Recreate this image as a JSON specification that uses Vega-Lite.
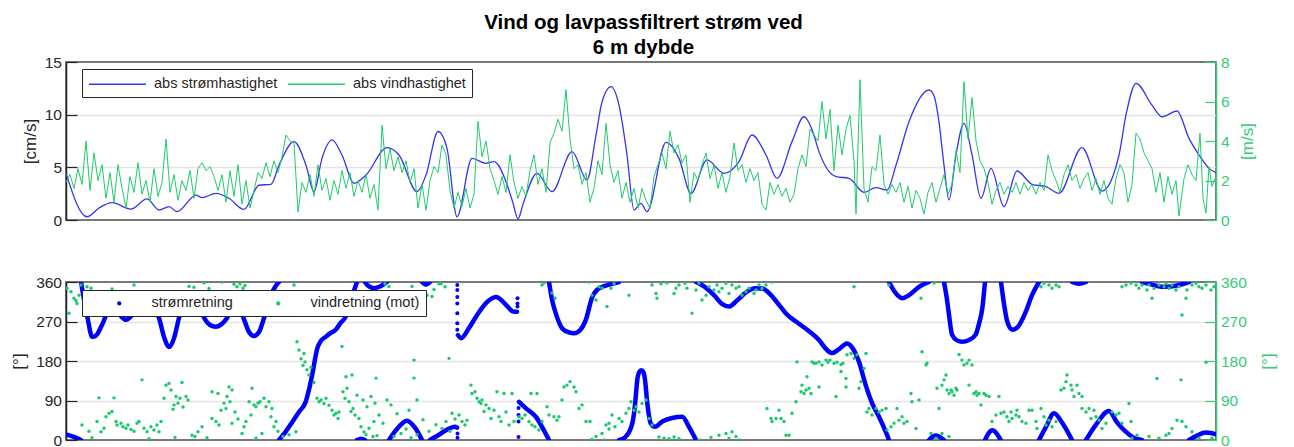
{
  "$schema": "https://vega.github.io/schema/vega-lite/v6.json",
  "background": "white",
  "padding": {"left": 9, "top": 12, "right": 0, "bottom": 0},
  "title": {
    "text": ["Vind og lavpassfiltrert strøm ved", "6 m dybde"],
    "font": "Liberation Sans",
    "fontSize": 20.5,
    "fontWeight": "bold",
    "color": "#000000",
    "lineHeight": 25,
    "offset": -4,
    "anchor": "middle"
  },
  "config": {
    "font": "Liberation Sans",
    "view": {"stroke": "#4d4d4d", "strokeWidth": 1.5},
    "axis": {
      "labelFont": "Liberation Sans",
      "labelFontSize": 15.5,
      "titleFont": "Liberation Sans",
      "titleFontSize": 17,
      "titleFontWeight": "normal",
      "tickSize": -11,
      "tickWidth": 1.2,
      "labelPadding": 15.5,
      "domainWidth": 1.5,
      "labelFlush": false,
      "labelOverlap": false
    },
    "legend": {
      "labelFont": "Liberation Sans",
      "labelFontSize": 14.5,
      "labelColor": "#262626",
      "strokeColor": "#262626",
      "fillColor": "white",
      "padding": 6
    }
  },
  "resolve": {"scale": {"color": "independent"}, "legend": {"color": "independent"}},
  "spacing": 62,
  "bounds": "flush",
  "vconcat": [
    {
      "width": 1150,
      "height": 158,
      "layer": [
        {
          "data": {"name": "stromfart"},
          "mark": {"type": "line", "interpolate": "monotone", "strokeWidth": 1.3, "clip": true},
          "encoding": {
            "x": {"field": "t", "type": "quantitative", "scale": {"domain": [0, 1150], "nice": false, "zero": false}, "axis": null},
            "y": {
              "field": "cms", "type": "quantitative",
              "scale": {"domain": [0, 15], "nice": false},
              "axis": {
                "orient": "left", "values": [0, 5, 10, 15], "title": "[cm/s]", "titlePadding": 5,
                "grid": true, "gridColor": "#e4e4e4", "gridWidth": 1.3,
                "gridOpacity": {"condition": {"test": "datum.value == 0 || datum.value == 15", "value": 0}, "value": 1},
                "domainColor": "#262626", "tickColor": "#262626", "labelColor": "#262626", "titleColor": "#262626"
              }
            },
            "color": {
              "datum": "abs strømhastighet", "type": "nominal",
              "scale": {"domain": ["abs strømhastighet", "abs vindhastighet"], "range": ["#3535ee", "#1fcc6b"]},
              "legend": {
                "orient": "none", "legendX": 16, "legendY": 7, "direction": "horizontal", "title": null,
                "symbolType": "M-3.56,0H3.56", "symbolSize": 256, "symbolStrokeWidth": 1.3,
                "symbolOffset": 20.5, "labelOffset": 27.5, "columnPadding": 7
              }
            }
          }
        },
        {
          "data": {"name": "vindfart"},
          "mark": {"type": "line", "strokeWidth": 1, "clip": true},
          "encoding": {
            "x": {"field": "t", "type": "quantitative", "scale": {"domain": [0, 1150], "nice": false, "zero": false}, "axis": null},
            "y": {
              "field": "ms", "type": "quantitative",
              "scale": {"domain": [0, 8], "nice": false},
              "axis": {
                "orient": "right", "values": [0, 2, 4, 6, 8], "title": "[m/s]", "titlePadding": 10,
                "titleAngle": -90, "titleBaseline": "top", "grid": false,
                "domainColor": "#33cc77", "tickColor": "#33cc77", "labelColor": "#33cc77", "titleColor": "#33cc77"
              }
            },
            "color": {
              "datum": "abs vindhastighet", "type": "nominal",
              "scale": {"domain": ["abs strømhastighet", "abs vindhastighet"], "range": ["#3535ee", "#1fcc6b"]}
            }
          }
        }
      ],
      "resolve": {"scale": {"y": "independent"}}
    },
    {
      "width": 1150,
      "height": 158,
      "layer": [
        {
          "data": {"name": "stromretning"},
          "mark": {"type": "line", "interpolate": "monotone", "strokeWidth": 4.5, "strokeCap": "round", "color": "#0000ff", "clip": true},
          "encoding": {
            "x": {"field": "t", "type": "quantitative", "scale": {"domain": [0, 1150], "nice": false, "zero": false}, "axis": null},
            "y": {
              "field": "grader", "type": "quantitative",
              "scale": {"domain": [0, 360], "nice": false},
              "axis": {
                "orient": "left", "values": [0, 90, 180, 270, 360], "title": "[°]", "titlePadding": 7,
                "grid": true, "gridColor": "#e4e4e4", "gridWidth": 1.3,
                "gridOpacity": {"condition": {"test": "datum.value == 0 || datum.value == 360", "value": 0}, "value": 1},
                "domainColor": "#262626", "tickColor": "#262626", "labelColor": "#262626", "titleColor": "#262626"
              }
            },
            "detail": {"field": "seg", "type": "nominal"}
          }
        },
        {
          "data": {"name": "stromretning_pkt"},
          "mark": {"type": "circle", "size": 16, "opacity": 1, "clip": true},
          "encoding": {
            "x": {"field": "t", "type": "quantitative", "scale": {"domain": [0, 1150], "nice": false, "zero": false}, "axis": null},
            "y": {"field": "grader", "type": "quantitative", "scale": {"domain": [0, 360], "nice": false}, "axis": null},
            "color": {
              "datum": "strømretning", "type": "nominal",
              "scale": {"domain": ["strømretning", "vindretning (mot)"], "range": ["#0000ff", "#19c96b"]},
              "legend": {
                "orient": "none", "legendX": 16, "legendY": 8, "direction": "horizontal", "title": null,
                "symbolType": "circle", "symbolSize": 18, "symbolOffset": 24,
                "labelOffset": 25, "columnPadding": 14
              }
            }
          }
        },
        {
          "data": {"name": "vindretning"},
          "mark": {"type": "circle", "size": 12, "opacity": 1, "clip": true},
          "encoding": {
            "x": {"field": "t", "type": "quantitative", "scale": {"domain": [0, 1150], "nice": false, "zero": false}, "axis": null},
            "y": {
              "field": "grader", "type": "quantitative",
              "scale": {"domain": [0, 360], "nice": false},
              "axis": {
                "orient": "right", "values": [0, 90, 180, 270, 360], "title": "[°]", "titlePadding": 14,
                "titleAngle": -90, "titleBaseline": "top", "grid": false,
                "domainColor": "#33cc77", "tickColor": "#33cc77", "labelColor": "#33cc77", "titleColor": "#33cc77"
              }
            },
            "color": {
              "datum": "vindretning (mot)", "type": "nominal",
              "scale": {"domain": ["strømretning", "vindretning (mot)"], "range": ["#0000ff", "#19c96b"]}
            }
          }
        }
      ],
      "resolve": {"scale": {"y": "independent"}}
    }
  ],
  "datasets": {
    "stromfart": [
      {"t": 0, "cms": 4.43}, {"t": 21, "cms": 0.31}, {"t": 33, "cms": 1.14}, {"t": 46, "cms": 1.65},
      {"t": 65, "cms": 1.04}, {"t": 81, "cms": 2.0}, {"t": 93, "cms": 0.95}, {"t": 103, "cms": 1.27},
      {"t": 111, "cms": 0.79}, {"t": 130, "cms": 2.37}, {"t": 136, "cms": 2.12}, {"t": 150, "cms": 2.53},
      {"t": 163, "cms": 2.06}, {"t": 178, "cms": 1.0}, {"t": 193, "cms": 3.3}, {"t": 205, "cms": 3.39},
      {"t": 213, "cms": 5.2}, {"t": 228, "cms": 7.44}, {"t": 240, "cms": 5.2}, {"t": 248, "cms": 2.69},
      {"t": 256, "cms": 5.85}, {"t": 266, "cms": 7.6}, {"t": 276, "cms": 6.17}, {"t": 288, "cms": 3.48},
      {"t": 300, "cms": 4.27}, {"t": 321, "cms": 6.87}, {"t": 333, "cms": 6.17}, {"t": 351, "cms": 2.69},
      {"t": 360, "cms": 4.27}, {"t": 372, "cms": 8.4}, {"t": 381, "cms": 6.8}, {"t": 391, "cms": 0.31},
      {"t": 406, "cms": 5.85}, {"t": 420, "cms": 5.38}, {"t": 428, "cms": 5.54}, {"t": 440, "cms": 3.64},
      {"t": 447, "cms": 1.6}, {"t": 452, "cms": 0.1}, {"t": 457, "cms": 1.5}, {"t": 471, "cms": 4.43},
      {"t": 486, "cms": 2.69}, {"t": 506, "cms": 6.49}, {"t": 521, "cms": 3.8}, {"t": 530, "cms": 8.07},
      {"t": 536, "cms": 11.2}, {"t": 545, "cms": 12.66}, {"t": 553, "cms": 10.9}, {"t": 561, "cms": 6.17},
      {"t": 568, "cms": 0.95}, {"t": 575, "cms": 1.58}, {"t": 581, "cms": 0.79}, {"t": 600, "cms": 7.37},
      {"t": 613, "cms": 5.85}, {"t": 625, "cms": 2.53}, {"t": 641, "cms": 5.7}, {"t": 658, "cms": 4.43},
      {"t": 673, "cms": 5.54}, {"t": 686, "cms": 8.07}, {"t": 700, "cms": 6.17}, {"t": 711, "cms": 3.96},
      {"t": 726, "cms": 7.44}, {"t": 738, "cms": 9.8}, {"t": 746, "cms": 8.6}, {"t": 753, "cms": 6.49},
      {"t": 763, "cms": 4.59}, {"t": 770, "cms": 4.11}, {"t": 783, "cms": 3.96}, {"t": 798, "cms": 2.63},
      {"t": 810, "cms": 3.07}, {"t": 821, "cms": 2.85}, {"t": 830, "cms": 5.2}, {"t": 843, "cms": 9.33},
      {"t": 863, "cms": 12.34}, {"t": 868, "cms": 11.8}, {"t": 873, "cms": 9.3}, {"t": 878, "cms": 5.2},
      {"t": 883, "cms": 1.9}, {"t": 890, "cms": 6.2}, {"t": 898, "cms": 9.18}, {"t": 906, "cms": 6.2},
      {"t": 915, "cms": 2.06}, {"t": 925, "cms": 4.9}, {"t": 938, "cms": 1.27}, {"t": 951, "cms": 4.65},
      {"t": 966, "cms": 3.39}, {"t": 980, "cms": 3.16}, {"t": 993, "cms": 2.53}, {"t": 1016, "cms": 6.87},
      {"t": 1036, "cms": 2.75}, {"t": 1053, "cms": 6.17}, {"t": 1060, "cms": 9.97}, {"t": 1070, "cms": 12.98},
      {"t": 1086, "cms": 10.9}, {"t": 1096, "cms": 9.8}, {"t": 1111, "cms": 10.35}, {"t": 1123, "cms": 7.75},
      {"t": 1133, "cms": 6.17}, {"t": 1143, "cms": 4.9}, {"t": 1150, "cms": 4.5}
    ],
    "vindfart": [
      {"t": 0, "ms": 1.9}, {"t": 4, "ms": 2.3}, {"t": 8, "ms": 1.6}, {"t": 12, "ms": 2.6}, {"t": 16, "ms": 1.8},
      {"t": 20, "ms": 4.0}, {"t": 24, "ms": 1.5}, {"t": 28, "ms": 3.4}, {"t": 32, "ms": 2.0}, {"t": 36, "ms": 2.8},
      {"t": 40, "ms": 1.1}, {"t": 44, "ms": 2.4}, {"t": 48, "ms": 0.9}, {"t": 52, "ms": 2.8}, {"t": 56, "ms": 1.6},
      {"t": 60, "ms": 0.6}, {"t": 64, "ms": 2.2}, {"t": 68, "ms": 1.4}, {"t": 72, "ms": 2.9}, {"t": 76, "ms": 1.3},
      {"t": 80, "ms": 2.0}, {"t": 84, "ms": 0.9}, {"t": 88, "ms": 2.6}, {"t": 92, "ms": 1.2}, {"t": 96, "ms": 1.9},
      {"t": 100, "ms": 4.1}, {"t": 104, "ms": 1.4}, {"t": 108, "ms": 2.3}, {"t": 112, "ms": 1.0}, {"t": 116, "ms": 2.0},
      {"t": 120, "ms": 1.5}, {"t": 124, "ms": 2.5}, {"t": 128, "ms": 1.1}, {"t": 132, "ms": 2.6}, {"t": 136, "ms": 2.9},
      {"t": 140, "ms": 2.5}, {"t": 144, "ms": 2.7}, {"t": 148, "ms": 2.2}, {"t": 152, "ms": 1.5}, {"t": 156, "ms": 2.3},
      {"t": 160, "ms": 0.9}, {"t": 164, "ms": 2.5}, {"t": 168, "ms": 1.2}, {"t": 172, "ms": 2.8}, {"t": 176, "ms": 0.8},
      {"t": 180, "ms": 2.0}, {"t": 184, "ms": 0.6}, {"t": 188, "ms": 1.5}, {"t": 192, "ms": 2.4}, {"t": 196, "ms": 2.1},
      {"t": 200, "ms": 2.9}, {"t": 204, "ms": 2.2}, {"t": 208, "ms": 3.0}, {"t": 212, "ms": 2.4}, {"t": 216, "ms": 3.2},
      {"t": 220, "ms": 4.3}, {"t": 224, "ms": 4.0}, {"t": 228, "ms": 3.9}, {"t": 232, "ms": 0.4}, {"t": 236, "ms": 1.9},
      {"t": 240, "ms": 1.4}, {"t": 244, "ms": 2.3}, {"t": 248, "ms": 1.2}, {"t": 252, "ms": 2.8}, {"t": 256, "ms": 1.5},
      {"t": 260, "ms": 2.1}, {"t": 264, "ms": 1.0}, {"t": 268, "ms": 2.0}, {"t": 272, "ms": 1.3}, {"t": 276, "ms": 2.5},
      {"t": 280, "ms": 1.6}, {"t": 284, "ms": 2.4}, {"t": 288, "ms": 1.2}, {"t": 292, "ms": 2.0}, {"t": 296, "ms": 1.4},
      {"t": 300, "ms": 2.3}, {"t": 304, "ms": 1.1}, {"t": 308, "ms": 1.8}, {"t": 312, "ms": 0.5}, {"t": 316, "ms": 4.8},
      {"t": 320, "ms": 2.6}, {"t": 324, "ms": 3.6}, {"t": 328, "ms": 2.5}, {"t": 332, "ms": 3.2}, {"t": 336, "ms": 2.4},
      {"t": 340, "ms": 3.0}, {"t": 344, "ms": 1.9}, {"t": 348, "ms": 2.6}, {"t": 352, "ms": 0.6}, {"t": 356, "ms": 1.8},
      {"t": 360, "ms": 0.5}, {"t": 364, "ms": 2.0}, {"t": 368, "ms": 2.7}, {"t": 372, "ms": 2.4}, {"t": 376, "ms": 3.8},
      {"t": 380, "ms": 3.3}, {"t": 384, "ms": 1.5}, {"t": 388, "ms": 0.6}, {"t": 392, "ms": 1.4}, {"t": 396, "ms": 0.7},
      {"t": 400, "ms": 1.6}, {"t": 404, "ms": 0.6}, {"t": 408, "ms": 1.3}, {"t": 412, "ms": 5.0}, {"t": 416, "ms": 3.2},
      {"t": 420, "ms": 4.0}, {"t": 424, "ms": 2.6}, {"t": 428, "ms": 2.0}, {"t": 432, "ms": 1.3}, {"t": 436, "ms": 2.2},
      {"t": 440, "ms": 1.4}, {"t": 444, "ms": 3.3}, {"t": 448, "ms": 1.9}, {"t": 452, "ms": 1.1}, {"t": 456, "ms": 1.7},
      {"t": 460, "ms": 1.2}, {"t": 464, "ms": 2.5}, {"t": 468, "ms": 3.3}, {"t": 472, "ms": 1.8}, {"t": 476, "ms": 2.6},
      {"t": 480, "ms": 1.4}, {"t": 484, "ms": 3.9}, {"t": 488, "ms": 4.4}, {"t": 492, "ms": 5.1}, {"t": 496, "ms": 4.5},
      {"t": 500, "ms": 6.6}, {"t": 504, "ms": 4.1}, {"t": 508, "ms": 2.6}, {"t": 512, "ms": 2.8}, {"t": 516, "ms": 1.8},
      {"t": 520, "ms": 2.4}, {"t": 524, "ms": 0.9}, {"t": 528, "ms": 1.6}, {"t": 532, "ms": 3.0}, {"t": 536, "ms": 2.3},
      {"t": 540, "ms": 4.9}, {"t": 544, "ms": 2.8}, {"t": 548, "ms": 1.9}, {"t": 552, "ms": 2.5}, {"t": 556, "ms": 1.1},
      {"t": 560, "ms": 1.9}, {"t": 564, "ms": 0.9}, {"t": 568, "ms": 1.6}, {"t": 572, "ms": 0.6}, {"t": 576, "ms": 1.6},
      {"t": 580, "ms": 1.0}, {"t": 584, "ms": 0.6}, {"t": 588, "ms": 2.2}, {"t": 592, "ms": 2.8}, {"t": 596, "ms": 3.4},
      {"t": 600, "ms": 2.6}, {"t": 604, "ms": 4.5}, {"t": 608, "ms": 3.4}, {"t": 612, "ms": 3.8}, {"t": 616, "ms": 2.9},
      {"t": 620, "ms": 3.3}, {"t": 624, "ms": 0.9}, {"t": 628, "ms": 2.4}, {"t": 632, "ms": 2.0}, {"t": 636, "ms": 2.8},
      {"t": 640, "ms": 3.4}, {"t": 644, "ms": 2.1}, {"t": 648, "ms": 2.8}, {"t": 652, "ms": 1.6}, {"t": 656, "ms": 2.4},
      {"t": 660, "ms": 1.4}, {"t": 664, "ms": 2.2}, {"t": 668, "ms": 3.9}, {"t": 672, "ms": 2.5}, {"t": 676, "ms": 2.8},
      {"t": 680, "ms": 1.9}, {"t": 684, "ms": 2.6}, {"t": 688, "ms": 2.0}, {"t": 692, "ms": 2.4}, {"t": 696, "ms": 0.8},
      {"t": 700, "ms": 0.5}, {"t": 704, "ms": 1.9}, {"t": 708, "ms": 1.3}, {"t": 712, "ms": 1.8}, {"t": 716, "ms": 1.2},
      {"t": 720, "ms": 1.6}, {"t": 724, "ms": 0.9}, {"t": 728, "ms": 1.3}, {"t": 732, "ms": 2.6}, {"t": 736, "ms": 3.3},
      {"t": 740, "ms": 2.7}, {"t": 744, "ms": 4.6}, {"t": 748, "ms": 4.3}, {"t": 752, "ms": 4.0}, {"t": 756, "ms": 6.0},
      {"t": 760, "ms": 4.1}, {"t": 764, "ms": 5.6}, {"t": 768, "ms": 2.5}, {"t": 772, "ms": 4.8}, {"t": 776, "ms": 3.3},
      {"t": 780, "ms": 4.6}, {"t": 784, "ms": 5.3}, {"t": 788, "ms": 3.0}, {"t": 790, "ms": 0.3}, {"t": 794, "ms": 7.1},
      {"t": 798, "ms": 1.6}, {"t": 802, "ms": 0.9}, {"t": 806, "ms": 2.7}, {"t": 810, "ms": 2.5}, {"t": 814, "ms": 4.3},
      {"t": 818, "ms": 1.8}, {"t": 822, "ms": 1.3}, {"t": 826, "ms": 1.8}, {"t": 830, "ms": 1.4}, {"t": 834, "ms": 1.9},
      {"t": 838, "ms": 0.9}, {"t": 842, "ms": 1.7}, {"t": 846, "ms": 0.6}, {"t": 850, "ms": 1.5}, {"t": 854, "ms": 1.1},
      {"t": 858, "ms": 0.3}, {"t": 862, "ms": 1.4}, {"t": 866, "ms": 1.9}, {"t": 870, "ms": 0.9}, {"t": 874, "ms": 1.6},
      {"t": 878, "ms": 2.3}, {"t": 882, "ms": 1.3}, {"t": 886, "ms": 1.8}, {"t": 890, "ms": 3.5}, {"t": 894, "ms": 2.4},
      {"t": 898, "ms": 7.0}, {"t": 902, "ms": 4.1}, {"t": 906, "ms": 6.2}, {"t": 910, "ms": 4.0}, {"t": 914, "ms": 3.0},
      {"t": 918, "ms": 2.6}, {"t": 922, "ms": 1.9}, {"t": 926, "ms": 0.8}, {"t": 930, "ms": 1.5}, {"t": 934, "ms": 1.9},
      {"t": 938, "ms": 1.3}, {"t": 942, "ms": 1.7}, {"t": 946, "ms": 1.4}, {"t": 950, "ms": 1.9}, {"t": 954, "ms": 1.3},
      {"t": 958, "ms": 1.9}, {"t": 962, "ms": 1.5}, {"t": 966, "ms": 1.8}, {"t": 970, "ms": 1.3}, {"t": 974, "ms": 1.9},
      {"t": 978, "ms": 1.5}, {"t": 982, "ms": 3.3}, {"t": 986, "ms": 2.5}, {"t": 990, "ms": 2.0}, {"t": 994, "ms": 1.4},
      {"t": 998, "ms": 2.3}, {"t": 1002, "ms": 2.8}, {"t": 1006, "ms": 2.0}, {"t": 1010, "ms": 2.3}, {"t": 1014, "ms": 1.6},
      {"t": 1018, "ms": 2.1}, {"t": 1022, "ms": 2.4}, {"t": 1026, "ms": 1.5}, {"t": 1030, "ms": 2.1}, {"t": 1034, "ms": 1.3},
      {"t": 1038, "ms": 2.0}, {"t": 1042, "ms": 1.1}, {"t": 1046, "ms": 0.8}, {"t": 1050, "ms": 2.1}, {"t": 1054, "ms": 2.8},
      {"t": 1058, "ms": 2.4}, {"t": 1062, "ms": 0.9}, {"t": 1066, "ms": 1.8}, {"t": 1070, "ms": 4.4}, {"t": 1074, "ms": 4.1},
      {"t": 1078, "ms": 3.4}, {"t": 1082, "ms": 3.0}, {"t": 1086, "ms": 2.6}, {"t": 1090, "ms": 1.4}, {"t": 1094, "ms": 2.4},
      {"t": 1098, "ms": 0.9}, {"t": 1102, "ms": 2.2}, {"t": 1106, "ms": 1.3}, {"t": 1110, "ms": 2.0}, {"t": 1113, "ms": 0.2},
      {"t": 1118, "ms": 2.1}, {"t": 1122, "ms": 2.8}, {"t": 1126, "ms": 2.3}, {"t": 1130, "ms": 2.0}, {"t": 1134, "ms": 4.4},
      {"t": 1137, "ms": 1.1}, {"t": 1140, "ms": 0.35}, {"t": 1143, "ms": 2.7}, {"t": 1146, "ms": 1.7}, {"t": 1150, "ms": 2.2}
    ],
    "stromretning": [
      {"t": 0, "grader": 13, "seg": 1}, {"t": 8, "grader": 7, "seg": 1}, {"t": 15, "grader": 0, "seg": 1},
      {"t": 15, "grader": 360, "seg": 2}, {"t": 18, "grader": 320, "seg": 2}, {"t": 21, "grader": 285, "seg": 2},
      {"t": 26.3, "grader": 235, "seg": 2}, {"t": 30, "grader": 238, "seg": 2}, {"t": 36, "grader": 262, "seg": 2},
      {"t": 43, "grader": 296, "seg": 2}, {"t": 49, "grader": 300, "seg": 2}, {"t": 55, "grader": 282, "seg": 2},
      {"t": 60, "grader": 274, "seg": 2}, {"t": 65, "grader": 282, "seg": 2}, {"t": 73, "grader": 315, "seg": 2},
      {"t": 81, "grader": 322, "seg": 2}, {"t": 88, "grader": 300, "seg": 2}, {"t": 93, "grader": 278, "seg": 2},
      {"t": 98, "grader": 235, "seg": 2}, {"t": 103, "grader": 212, "seg": 2}, {"t": 108, "grader": 232, "seg": 2},
      {"t": 113, "grader": 278, "seg": 2}, {"t": 119, "grader": 318, "seg": 2}, {"t": 127, "grader": 325, "seg": 2},
      {"t": 134, "grader": 300, "seg": 2}, {"t": 139, "grader": 275, "seg": 2}, {"t": 144, "grader": 262, "seg": 2},
      {"t": 149.7, "grader": 258, "seg": 2}, {"t": 155, "grader": 263, "seg": 2}, {"t": 161, "grader": 278, "seg": 2},
      {"t": 167, "grader": 305, "seg": 2}, {"t": 173, "grader": 300, "seg": 2}, {"t": 178, "grader": 275, "seg": 2},
      {"t": 183, "grader": 246, "seg": 2}, {"t": 188, "grader": 237, "seg": 2}, {"t": 193, "grader": 246, "seg": 2},
      {"t": 198, "grader": 278, "seg": 2}, {"t": 205, "grader": 330, "seg": 2}, {"t": 210, "grader": 352, "seg": 2},
      {"t": 213, "grader": 360, "seg": 2},
      {"t": 213, "grader": 0, "seg": 3}, {"t": 219.7, "grader": 19, "seg": 3}, {"t": 226, "grader": 40, "seg": 3},
      {"t": 233, "grader": 64, "seg": 3}, {"t": 239.7, "grader": 87, "seg": 3}, {"t": 243, "grader": 115, "seg": 3},
      {"t": 246.3, "grader": 150, "seg": 3}, {"t": 251.3, "grader": 209, "seg": 3}, {"t": 255, "grader": 226, "seg": 3},
      {"t": 259.7, "grader": 235, "seg": 3}, {"t": 264, "grader": 243, "seg": 3}, {"t": 269.7, "grader": 251, "seg": 3},
      {"t": 274, "grader": 265, "seg": 3}, {"t": 279.7, "grader": 281, "seg": 3}, {"t": 284.7, "grader": 315, "seg": 3},
      {"t": 288, "grader": 340, "seg": 3}, {"t": 291, "grader": 360, "seg": 3},
      {"t": 291, "grader": 0, "seg": 4}, {"t": 295, "grader": 3, "seg": 4}, {"t": 299, "grader": 0, "seg": 4},
      {"t": 299, "grader": 360, "seg": 5}, {"t": 303, "grader": 350, "seg": 5}, {"t": 308, "grader": 346, "seg": 5},
      {"t": 315, "grader": 351, "seg": 5}, {"t": 321, "grader": 360, "seg": 5},
      {"t": 323, "grader": 0, "seg": 6}, {"t": 331, "grader": 25, "seg": 6}, {"t": 341, "grader": 44, "seg": 6},
      {"t": 349, "grader": 28, "seg": 6}, {"t": 356, "grader": 0, "seg": 6},
      {"t": 356, "grader": 360, "seg": 7}, {"t": 360, "grader": 354, "seg": 7}, {"t": 364, "grader": 360, "seg": 7},
      {"t": 364, "grader": 0, "seg": 8}, {"t": 373, "grader": 12, "seg": 8}, {"t": 383, "grader": 26, "seg": 8},
      {"t": 389, "grader": 30, "seg": 8}, {"t": 391, "grader": 28, "seg": 8},
      {"t": 392, "grader": 239, "seg": 9}, {"t": 395, "grader": 232, "seg": 9}, {"t": 403, "grader": 255, "seg": 9},
      {"t": 410, "grader": 281, "seg": 9}, {"t": 420, "grader": 312, "seg": 9}, {"t": 430, "grader": 326, "seg": 9},
      {"t": 440, "grader": 308, "seg": 9}, {"t": 446, "grader": 294, "seg": 9}, {"t": 449, "grader": 292, "seg": 9},
      {"t": 451, "grader": 292, "seg": 9},
      {"t": 453, "grader": 87, "seg": 10}, {"t": 460, "grader": 72, "seg": 10}, {"t": 469.7, "grader": 53, "seg": 10},
      {"t": 476, "grader": 30, "seg": 10}, {"t": 483, "grader": 0, "seg": 10},
      {"t": 483, "grader": 360, "seg": 11}, {"t": 486, "grader": 320, "seg": 11}, {"t": 489.7, "grader": 289, "seg": 11},
      {"t": 496.3, "grader": 254, "seg": 11}, {"t": 503, "grader": 245, "seg": 11}, {"t": 508, "grader": 243, "seg": 11},
      {"t": 514, "grader": 250, "seg": 11}, {"t": 519.7, "grader": 273, "seg": 11}, {"t": 526.3, "grader": 326, "seg": 11},
      {"t": 531, "grader": 342, "seg": 11}, {"t": 536.3, "grader": 349, "seg": 11}, {"t": 545, "grader": 355, "seg": 11},
      {"t": 553, "grader": 360, "seg": 11},
      {"t": 553, "grader": 0, "seg": 12}, {"t": 559, "grader": 6, "seg": 12}, {"t": 566.3, "grader": 38, "seg": 12},
      {"t": 569, "grader": 80, "seg": 12}, {"t": 571.3, "grader": 137, "seg": 12}, {"t": 573.3, "grader": 155, "seg": 12},
      {"t": 575.3, "grader": 159, "seg": 12}, {"t": 577.3, "grader": 155, "seg": 12}, {"t": 579, "grader": 137, "seg": 12},
      {"t": 581.3, "grader": 84, "seg": 12}, {"t": 584.7, "grader": 38, "seg": 12}, {"t": 589, "grader": 30, "seg": 12},
      {"t": 596.3, "grader": 42, "seg": 12}, {"t": 606, "grader": 50, "seg": 12}, {"t": 616.3, "grader": 53, "seg": 12},
      {"t": 623, "grader": 30, "seg": 12}, {"t": 630, "grader": 0, "seg": 12},
      {"t": 630, "grader": 360, "seg": 13}, {"t": 638, "grader": 350, "seg": 13}, {"t": 648, "grader": 330, "seg": 13},
      {"t": 656, "grader": 310, "seg": 13}, {"t": 663, "grader": 304, "seg": 13}, {"t": 671, "grader": 318, "seg": 13},
      {"t": 681, "grader": 338, "seg": 13}, {"t": 689, "grader": 346, "seg": 13}, {"t": 696.3, "grader": 345, "seg": 13},
      {"t": 705, "grader": 330, "seg": 13}, {"t": 713, "grader": 308, "seg": 13}, {"t": 719.7, "grader": 289, "seg": 13},
      {"t": 733, "grader": 265, "seg": 13}, {"t": 743, "grader": 248, "seg": 13}, {"t": 753, "grader": 228, "seg": 13},
      {"t": 759, "grader": 210, "seg": 13}, {"t": 766, "grader": 198, "seg": 13}, {"t": 773, "grader": 207, "seg": 13},
      {"t": 781, "grader": 220, "seg": 13}, {"t": 787, "grader": 208, "seg": 13}, {"t": 793, "grader": 178, "seg": 13},
      {"t": 799.7, "grader": 125, "seg": 13}, {"t": 806.3, "grader": 83, "seg": 13}, {"t": 813, "grader": 53, "seg": 13},
      {"t": 819.7, "grader": 19, "seg": 13}, {"t": 823, "grader": 0, "seg": 13},
      {"t": 823, "grader": 360, "seg": 14}, {"t": 828, "grader": 340, "seg": 14}, {"t": 836.3, "grader": 323, "seg": 14},
      {"t": 843, "grader": 330, "seg": 14}, {"t": 853, "grader": 349, "seg": 14}, {"t": 863, "grader": 360, "seg": 14},
      {"t": 863, "grader": 0, "seg": 15}, {"t": 869.7, "grader": 10, "seg": 15}, {"t": 878, "grader": 0, "seg": 15},
      {"t": 878, "grader": 360, "seg": 16}, {"t": 881, "grader": 320, "seg": 16}, {"t": 883, "grader": 285, "seg": 16},
      {"t": 886, "grader": 240, "seg": 16}, {"t": 891, "grader": 227, "seg": 16}, {"t": 896, "grader": 224, "seg": 16},
      {"t": 903, "grader": 228, "seg": 16}, {"t": 909.7, "grader": 240, "seg": 16}, {"t": 913, "grader": 265, "seg": 16},
      {"t": 916.3, "grader": 300, "seg": 16}, {"t": 919, "grader": 360, "seg": 16},
      {"t": 919, "grader": 0, "seg": 17}, {"t": 926.3, "grader": 22, "seg": 17}, {"t": 934.7, "grader": 0, "seg": 17},
      {"t": 935, "grader": 360, "seg": 18}, {"t": 938, "grader": 310, "seg": 18}, {"t": 941, "grader": 272, "seg": 18},
      {"t": 946.3, "grader": 251, "seg": 18}, {"t": 952, "grader": 258, "seg": 18}, {"t": 959.7, "grader": 292, "seg": 18},
      {"t": 966, "grader": 330, "seg": 18}, {"t": 973, "grader": 360, "seg": 18},
      {"t": 973, "grader": 0, "seg": 19}, {"t": 980, "grader": 30, "seg": 19}, {"t": 988, "grader": 61, "seg": 19},
      {"t": 996, "grader": 40, "seg": 19}, {"t": 1006, "grader": 0, "seg": 19},
      {"t": 1006, "grader": 360, "seg": 20}, {"t": 1013, "grader": 356, "seg": 20}, {"t": 1020, "grader": 360, "seg": 20},
      {"t": 1020, "grader": 0, "seg": 21}, {"t": 1030, "grader": 35, "seg": 21}, {"t": 1043, "grader": 66, "seg": 21},
      {"t": 1051, "grader": 40, "seg": 21}, {"t": 1059.7, "grader": 19, "seg": 21}, {"t": 1067, "grader": 6, "seg": 21},
      {"t": 1076, "grader": 0, "seg": 21},
      {"t": 1076, "grader": 360, "seg": 22}, {"t": 1083, "grader": 356, "seg": 22}, {"t": 1091, "grader": 351, "seg": 22},
      {"t": 1099.7, "grader": 349, "seg": 22}, {"t": 1111, "grader": 352, "seg": 22}, {"t": 1123, "grader": 360, "seg": 22},
      {"t": 1123, "grader": 0, "seg": 23}, {"t": 1131, "grader": 10, "seg": 23}, {"t": 1139.7, "grader": 17, "seg": 23},
      {"t": 1145, "grader": 16, "seg": 23}, {"t": 1150, "grader": 13, "seg": 23}
    ],
    "stromretning_pkt": [
      {"t": 391.3, "grader": 353}, {"t": 391.3, "grader": 342}, {"t": 391.3, "grader": 326}, {"t": 391.3, "grader": 311},
      {"t": 391.3, "grader": 289}, {"t": 391.3, "grader": 266}, {"t": 391.3, "grader": 251},
      {"t": 391.5, "grader": 15}, {"t": 391.5, "grader": 5},
      {"t": 451.5, "grader": 304}, {"t": 451.5, "grader": 311}, {"t": 451.5, "grader": 323},
      {"t": 452.5, "grader": 7}, {"t": 452.5, "grader": 42}, {"t": 452.5, "grader": 57}, {"t": 452.5, "grader": 73}
    ],
    "vindretning": [
      {"t": 1, "grader": 346}, {"t": 3, "grader": 289}, {"t": 5, "grader": 338}, {"t": 8, "grader": 323}, {"t": 10, "grader": 318},
      {"t": 11, "grader": 311}, {"t": 13, "grader": 330}, {"t": 15, "grader": 353}, {"t": 21, "grader": 349}, {"t": 25, "grader": 346},
      {"t": 16, "grader": 34}, {"t": 23, "grader": 20}, {"t": 26, "grader": 5}, {"t": 31, "grader": 42}, {"t": 33, "grader": 96},
      {"t": 35, "grader": 19}, {"t": 38, "grader": 27}, {"t": 40, "grader": 53}, {"t": 43, "grader": 61}, {"t": 46, "grader": 65},
      {"t": 46, "grader": 344}, {"t": 48, "grader": 96}, {"t": 50, "grader": 42}, {"t": 51, "grader": 34}, {"t": 55, "grader": 38},
      {"t": 57, "grader": 30}, {"t": 60, "grader": 27}, {"t": 62, "grader": 34}, {"t": 65, "grader": 24}, {"t": 68, "grader": 20},
      {"t": 68, "grader": 353}, {"t": 71, "grader": 38}, {"t": 73, "grader": 42}, {"t": 76, "grader": 137}, {"t": 78, "grader": 27},
      {"t": 81, "grader": 19}, {"t": 83, "grader": 3}, {"t": 85, "grader": 30}, {"t": 88, "grader": 23}, {"t": 91, "grader": 34},
      {"t": 93, "grader": 19}, {"t": 95, "grader": 42}, {"t": 98, "grader": 95}, {"t": 100, "grader": 125}, {"t": 103, "grader": 129},
      {"t": 105, "grader": 114}, {"t": 107, "grader": 70}, {"t": 108, "grader": 80}, {"t": 109, "grader": 6}, {"t": 110, "grader": 99},
      {"t": 112, "grader": 84}, {"t": 114, "grader": 95}, {"t": 116, "grader": 131}, {"t": 117, "grader": 75}, {"t": 120, "grader": 99},
      {"t": 122, "grader": 91}, {"t": 123, "grader": 350}, {"t": 126, "grader": 11}, {"t": 128, "grader": 348}, {"t": 129, "grader": 8},
      {"t": 132, "grader": 19}, {"t": 136, "grader": 30}, {"t": 138, "grader": 358}, {"t": 141, "grader": 5}, {"t": 143, "grader": 345},
      {"t": 146, "grader": 49}, {"t": 146, "grader": 110}, {"t": 150, "grader": 42}, {"t": 152, "grader": 106}, {"t": 153, "grader": 34},
      {"t": 155, "grader": 68}, {"t": 156, "grader": 360}, {"t": 158, "grader": 84}, {"t": 160, "grader": 72}, {"t": 161, "grader": 99},
      {"t": 163, "grader": 121}, {"t": 164, "grader": 87}, {"t": 166, "grader": 114}, {"t": 166, "grader": 38}, {"t": 168, "grader": 355},
      {"t": 169, "grader": 64}, {"t": 171, "grader": 349}, {"t": 172, "grader": 48}, {"t": 174, "grader": 356}, {"t": 176, "grader": 15},
      {"t": 177, "grader": 346}, {"t": 178, "grader": 30}, {"t": 179, "grader": 352}, {"t": 180, "grader": 42}, {"t": 183, "grader": 87},
      {"t": 185, "grader": 57}, {"t": 186, "grader": 118}, {"t": 188, "grader": 80}, {"t": 190, "grader": 76}, {"t": 190, "grader": 4},
      {"t": 192, "grader": 84}, {"t": 194, "grader": 87}, {"t": 196, "grader": 15}, {"t": 198, "grader": 95}, {"t": 200, "grader": 76},
      {"t": 203, "grader": 87}, {"t": 205, "grader": 53}, {"t": 206, "grader": 72}, {"t": 208, "grader": 30}, {"t": 210, "grader": 42},
      {"t": 212, "grader": 20}, {"t": 217, "grader": 8}, {"t": 223, "grader": 12}, {"t": 228, "grader": 353}, {"t": 230, "grader": 19},
      {"t": 231, "grader": 224}, {"t": 233, "grader": 205}, {"t": 235, "grader": 185}, {"t": 237, "grader": 170}, {"t": 238, "grader": 197},
      {"t": 239, "grader": 178}, {"t": 241, "grader": 160}, {"t": 243, "grader": 148}, {"t": 245, "grader": 165}, {"t": 248, "grader": 131},
      {"t": 251, "grader": 95}, {"t": 253, "grader": 87}, {"t": 255, "grader": 91}, {"t": 258, "grader": 83}, {"t": 260, "grader": 95},
      {"t": 263, "grader": 79}, {"t": 266, "grader": 68}, {"t": 268, "grader": 57}, {"t": 270, "grader": 61}, {"t": 272, "grader": 49},
      {"t": 273, "grader": 64}, {"t": 276, "grader": 213}, {"t": 277, "grader": 110}, {"t": 279, "grader": 95}, {"t": 280, "grader": 144},
      {"t": 281, "grader": 118}, {"t": 283, "grader": 87}, {"t": 285, "grader": 65}, {"t": 286, "grader": 148}, {"t": 287, "grader": 72},
      {"t": 289, "grader": 57}, {"t": 291, "grader": 102}, {"t": 293, "grader": 49}, {"t": 295, "grader": 30}, {"t": 297, "grader": 91},
      {"t": 298, "grader": 18}, {"t": 300, "grader": 12}, {"t": 301, "grader": 76}, {"t": 303, "grader": 27}, {"t": 305, "grader": 99},
      {"t": 307, "grader": 8}, {"t": 308, "grader": 42}, {"t": 309, "grader": 84}, {"t": 310, "grader": 141}, {"t": 311, "grader": 10},
      {"t": 313, "grader": 57}, {"t": 317, "grader": 38}, {"t": 319, "grader": 356}, {"t": 321, "grader": 91}, {"t": 323, "grader": 350},
      {"t": 325, "grader": 80}, {"t": 328, "grader": 8}, {"t": 331, "grader": 60}, {"t": 335, "grader": 15}, {"t": 340, "grader": 25},
      {"t": 343, "grader": 68}, {"t": 345, "grader": 5}, {"t": 346, "grader": 350}, {"t": 348, "grader": 182}, {"t": 348, "grader": 141},
      {"t": 351, "grader": 91}, {"t": 351, "grader": 12}, {"t": 353, "grader": 338}, {"t": 357, "grader": 46}, {"t": 361, "grader": 330},
      {"t": 363, "grader": 20}, {"t": 366, "grader": 327}, {"t": 368, "grader": 343}, {"t": 370, "grader": 35}, {"t": 373, "grader": 356},
      {"t": 375, "grader": 356}, {"t": 376, "grader": 26}, {"t": 379, "grader": 349}, {"t": 380, "grader": 42}, {"t": 383, "grader": 186},
      {"t": 384, "grader": 20}, {"t": 386, "grader": 61}, {"t": 389, "grader": 48}, {"t": 393, "grader": 57}, {"t": 396, "grader": 42},
      {"t": 399, "grader": 34}, {"t": 401, "grader": 45}, {"t": 405, "grader": 125}, {"t": 406, "grader": 106}, {"t": 409, "grader": 110},
      {"t": 411, "grader": 95}, {"t": 413, "grader": 87}, {"t": 415, "grader": 83}, {"t": 416, "grader": 91}, {"t": 418, "grader": 65},
      {"t": 420, "grader": 80}, {"t": 423, "grader": 72}, {"t": 425, "grader": 49}, {"t": 428, "grader": 68}, {"t": 431, "grader": 110},
      {"t": 433, "grader": 53}, {"t": 435, "grader": 42}, {"t": 438, "grader": 106}, {"t": 440, "grader": 64}, {"t": 443, "grader": 34},
      {"t": 446, "grader": 106}, {"t": 448, "grader": 42}, {"t": 453, "grader": 53}, {"t": 456, "grader": 49}, {"t": 459, "grader": 57},
      {"t": 463, "grader": 42}, {"t": 465, "grader": 106}, {"t": 466, "grader": 34}, {"t": 469, "grader": 30}, {"t": 471, "grader": 106},
      {"t": 473, "grader": 23}, {"t": 476, "grader": 42}, {"t": 476, "grader": 353}, {"t": 478, "grader": 358}, {"t": 481, "grader": 76},
      {"t": 483, "grader": 57}, {"t": 486, "grader": 335}, {"t": 488, "grader": 53}, {"t": 489, "grader": 323}, {"t": 491, "grader": 45},
      {"t": 493, "grader": 53}, {"t": 496, "grader": 91}, {"t": 498, "grader": 121}, {"t": 501, "grader": 125}, {"t": 504, "grader": 133},
      {"t": 508, "grader": 121}, {"t": 510, "grader": 110}, {"t": 513, "grader": 72}, {"t": 516, "grader": 80}, {"t": 520, "grader": 42},
      {"t": 524, "grader": 42}, {"t": 526, "grader": 2}, {"t": 530, "grader": 8}, {"t": 536, "grader": 15}, {"t": 538, "grader": 0},
      {"t": 540, "grader": 34}, {"t": 543, "grader": 25}, {"t": 543, "grader": 38}, {"t": 546, "grader": 57}, {"t": 549, "grader": 30},
      {"t": 553, "grader": 49}, {"t": 556, "grader": 42}, {"t": 560, "grader": 61}, {"t": 563, "grader": 72}, {"t": 565, "grader": 87},
      {"t": 568, "grader": 68}, {"t": 570, "grader": 76}, {"t": 573, "grader": 64}, {"t": 576, "grader": 83}, {"t": 580, "grader": 91},
      {"t": 583, "grader": 49}, {"t": 586, "grader": 34}, {"t": 593, "grader": 7}, {"t": 598, "grader": 4}, {"t": 603, "grader": 3},
      {"t": 608, "grader": 7}, {"t": 613, "grader": 3},
      {"t": 523, "grader": 360}, {"t": 526, "grader": 330}, {"t": 530, "grader": 319}, {"t": 533, "grader": 349}, {"t": 536, "grader": 346},
      {"t": 541, "grader": 304}, {"t": 545, "grader": 346}, {"t": 548, "grader": 356}, {"t": 563, "grader": 330}, {"t": 586, "grader": 353},
      {"t": 590, "grader": 334}, {"t": 591, "grader": 323}, {"t": 595, "grader": 356}, {"t": 601, "grader": 358}, {"t": 608, "grader": 334},
      {"t": 610, "grader": 346}, {"t": 613, "grader": 353}, {"t": 619, "grader": 357}, {"t": 621, "grader": 346}, {"t": 626, "grader": 289},
      {"t": 630, "grader": 342}, {"t": 633, "grader": 357}, {"t": 636, "grader": 319}, {"t": 640, "grader": 330}, {"t": 643, "grader": 349},
      {"t": 648, "grader": 342}, {"t": 651, "grader": 353}, {"t": 653, "grader": 338}, {"t": 656, "grader": 346}, {"t": 660, "grader": 357},
      {"t": 663, "grader": 334}, {"t": 666, "grader": 353}, {"t": 670, "grader": 346}, {"t": 673, "grader": 349}, {"t": 676, "grader": 330},
      {"t": 680, "grader": 338}, {"t": 683, "grader": 346}, {"t": 688, "grader": 334}, {"t": 690, "grader": 342}, {"t": 693, "grader": 353},
      {"t": 696, "grader": 345}, {"t": 700, "grader": 353}, {"t": 706, "grader": 360},
      {"t": 633, "grader": 0}, {"t": 645, "grader": 6}, {"t": 653, "grader": 11}, {"t": 660, "grader": 15}, {"t": 663, "grader": 4},
      {"t": 666, "grader": 19}, {"t": 670, "grader": 8}, {"t": 673, "grader": 0},
      {"t": 701, "grader": 72}, {"t": 705, "grader": 49}, {"t": 706, "grader": 42}, {"t": 710, "grader": 49}, {"t": 713, "grader": 68},
      {"t": 715, "grader": 49}, {"t": 718, "grader": 42}, {"t": 720, "grader": 11}, {"t": 723, "grader": 11}, {"t": 726, "grader": 61},
      {"t": 730, "grader": 87}, {"t": 731, "grader": 178}, {"t": 735, "grader": 110}, {"t": 736, "grader": 125}, {"t": 738, "grader": 106},
      {"t": 740, "grader": 114}, {"t": 741, "grader": 144}, {"t": 743, "grader": 118}, {"t": 745, "grader": 106}, {"t": 746, "grader": 178},
      {"t": 748, "grader": 175}, {"t": 750, "grader": 175}, {"t": 753, "grader": 178}, {"t": 756, "grader": 171}, {"t": 760, "grader": 182},
      {"t": 762, "grader": 177}, {"t": 753, "grader": 121}, {"t": 764, "grader": 182}, {"t": 768, "grader": 175}, {"t": 771, "grader": 177},
      {"t": 775, "grader": 172}, {"t": 777, "grader": 175}, {"t": 770, "grader": 99}, {"t": 775, "grader": 156}, {"t": 780, "grader": 140},
      {"t": 780, "grader": 121}, {"t": 781, "grader": 194}, {"t": 785, "grader": 197}, {"t": 788, "grader": 186}, {"t": 788, "grader": 349},
      {"t": 791, "grader": 194}, {"t": 793, "grader": 118}, {"t": 795, "grader": 133}, {"t": 798, "grader": 163}, {"t": 800, "grader": 197},
      {"t": 801, "grader": 64}, {"t": 803, "grader": 72}, {"t": 806, "grader": 57}, {"t": 810, "grader": 72}, {"t": 813, "grader": 64},
      {"t": 816, "grader": 68}, {"t": 820, "grader": 72}, {"t": 821, "grader": 23}, {"t": 823, "grader": 353}, {"t": 825, "grader": 30},
      {"t": 828, "grader": 38}, {"t": 831, "grader": 72}, {"t": 833, "grader": 45}, {"t": 836, "grader": 53}, {"t": 838, "grader": 38},
      {"t": 841, "grader": 42}, {"t": 845, "grader": 106}, {"t": 846, "grader": 87}, {"t": 850, "grader": 26}, {"t": 853, "grader": 91},
      {"t": 855, "grader": 323}, {"t": 856, "grader": 201}, {"t": 860, "grader": 171}, {"t": 861, "grader": 175}, {"t": 865, "grader": 15},
      {"t": 868, "grader": 358}, {"t": 870, "grader": 4}, {"t": 871, "grader": 118}, {"t": 873, "grader": 72}, {"t": 876, "grader": 125},
      {"t": 876, "grader": 15}, {"t": 878, "grader": 137}, {"t": 880, "grader": 148}, {"t": 881, "grader": 114}, {"t": 883, "grader": 106},
      {"t": 883, "grader": 8}, {"t": 885, "grader": 114}, {"t": 886, "grader": 110}, {"t": 888, "grader": 102}, {"t": 890, "grader": 118},
      {"t": 891, "grader": 114}, {"t": 893, "grader": 195}, {"t": 896, "grader": 182}, {"t": 898, "grader": 171}, {"t": 901, "grader": 175},
      {"t": 903, "grader": 125}, {"t": 903, "grader": 182}, {"t": 906, "grader": 171}, {"t": 908, "grader": 106}, {"t": 910, "grader": 110},
      {"t": 911, "grader": 102}, {"t": 913, "grader": 106}, {"t": 915, "grader": 80}, {"t": 918, "grader": 106}, {"t": 920, "grader": 102},
      {"t": 923, "grader": 99}, {"t": 926, "grader": 42}, {"t": 930, "grader": 57}, {"t": 933, "grader": 99}, {"t": 935, "grader": 61},
      {"t": 938, "grader": 64}, {"t": 941, "grader": 53}, {"t": 943, "grader": 42}, {"t": 945, "grader": 64}, {"t": 946, "grader": 49},
      {"t": 950, "grader": 57}, {"t": 951, "grader": 68}, {"t": 953, "grader": 53}, {"t": 956, "grader": 42}, {"t": 960, "grader": 38},
      {"t": 963, "grader": 68}, {"t": 966, "grader": 68}, {"t": 970, "grader": 42}, {"t": 971, "grader": 26}, {"t": 975, "grader": 72},
      {"t": 978, "grader": 53}, {"t": 980, "grader": 34}, {"t": 983, "grader": 45}, {"t": 986, "grader": 30}, {"t": 990, "grader": 42},
      {"t": 975, "grader": 349}, {"t": 978, "grader": 357}, {"t": 983, "grader": 353}, {"t": 986, "grader": 346}, {"t": 990, "grader": 353},
      {"t": 993, "grader": 349},
      {"t": 995, "grader": 114}, {"t": 998, "grader": 118}, {"t": 1000, "grader": 133}, {"t": 1001, "grader": 148}, {"t": 1005, "grader": 125},
      {"t": 1006, "grader": 114}, {"t": 1008, "grader": 99}, {"t": 1011, "grader": 125}, {"t": 1013, "grader": 106}, {"t": 1016, "grader": 72},
      {"t": 1016, "grader": 99}, {"t": 1020, "grader": 64}, {"t": 1023, "grader": 72}, {"t": 1025, "grader": 49}, {"t": 1028, "grader": 68},
      {"t": 1030, "grader": 53}, {"t": 1033, "grader": 45}, {"t": 1036, "grader": 26}, {"t": 1040, "grader": 38}, {"t": 1046, "grader": 64},
      {"t": 1050, "grader": 57}, {"t": 1053, "grader": 61}, {"t": 1056, "grader": 38}, {"t": 1063, "grader": 83}, {"t": 1065, "grader": 42},
      {"t": 1066, "grader": 4}, {"t": 1071, "grader": 11},
      {"t": 1056, "grader": 349}, {"t": 1060, "grader": 353}, {"t": 1065, "grader": 357}, {"t": 1070, "grader": 353}, {"t": 1073, "grader": 346},
      {"t": 1076, "grader": 353}, {"t": 1081, "grader": 342}, {"t": 1083, "grader": 353}, {"t": 1086, "grader": 323}, {"t": 1088, "grader": 346},
      {"t": 1093, "grader": 353}, {"t": 1098, "grader": 349}, {"t": 1100, "grader": 357}, {"t": 1103, "grader": 346}, {"t": 1106, "grader": 353},
      {"t": 1110, "grader": 342}, {"t": 1113, "grader": 349}, {"t": 1116, "grader": 285}, {"t": 1120, "grader": 323}, {"t": 1121, "grader": 342},
      {"t": 1126, "grader": 353}, {"t": 1130, "grader": 357}, {"t": 1133, "grader": 349}, {"t": 1136, "grader": 346}, {"t": 1140, "grader": 353},
      {"t": 1145, "grader": 342}, {"t": 1148, "grader": 349},
      {"t": 1083, "grader": 8}, {"t": 1091, "grader": 140}, {"t": 1093, "grader": 4}, {"t": 1100, "grader": 11}, {"t": 1103, "grader": 15},
      {"t": 1106, "grader": 26}, {"t": 1111, "grader": 45}, {"t": 1115, "grader": 137}, {"t": 1116, "grader": 42}, {"t": 1120, "grader": 30},
      {"t": 1126, "grader": 19}, {"t": 1133, "grader": 4}, {"t": 1140, "grader": 177}, {"t": 1146, "grader": 4}
    ]
  }
}
